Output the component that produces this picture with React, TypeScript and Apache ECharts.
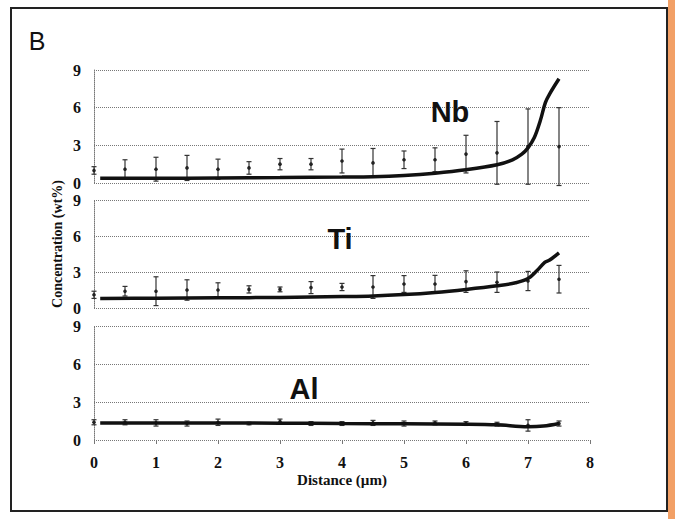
import React, { useEffect, useRef } from "react";
import * as echarts from "echarts";

// ---- Data ----
const distanceTicks = [0, 1, 2, 3, 4, 5, 6, 7, 8];
const concentrationTicks = [0, 3, 6, 9];
const elements = ["Nb", "Ti", "Al"];

// measurement points (distance, µm)
const pointX = [0, 0.5, 1, 1.5, 2, 2.5, 3, 3.5, 4, 4.5, 5, 5.5, 6, 6.5, 7, 7.5];

// Nb
const nbMean = [1.0, 1.1, 1.1, 1.2, 1.1, 1.2, 1.5, 1.5, 1.75, 1.6, 1.85, 1.85, 2.3, 2.4, 2.9, 2.9];
const nbErr = [0.3, 0.75, 0.95, 1.0, 0.8, 0.5, 0.45, 0.45, 0.95, 1.15, 0.7, 0.95, 1.5, 2.5, 3.0, 3.1];
const nbCurveX = [0.1, 1, 2, 3, 4, 4.5, 5, 5.5, 6, 6.5, 6.75, 6.9, 7.0, 7.1, 7.2, 7.28, 7.35, 7.5];
const nbCurveY = [0.38, 0.38, 0.4, 0.43, 0.47, 0.5, 0.6, 0.78, 1.05, 1.45, 1.85, 2.3, 2.8, 3.6, 5.0, 6.4, 7.1, 8.3];

// Ti
const tiMean = [1.1, 1.4, 1.4, 1.5, 1.5, 1.55, 1.55, 1.7, 1.75, 1.75, 2.0, 2.0, 2.2, 2.15, 2.25, 2.4];
const tiErr = [0.3, 0.4, 1.2, 0.85, 0.6, 0.3, 0.2, 0.5, 0.3, 0.95, 0.7, 0.72, 0.9, 0.85, 0.8, 1.15];
const tiCurveX = [0.1, 1, 2, 3, 4, 4.5, 5, 5.5, 6, 6.5, 6.8, 7.0, 7.15, 7.27, 7.35, 7.5];
const tiCurveY = [0.8, 0.82, 0.85, 0.88, 0.95, 1.0, 1.12, 1.3, 1.55, 1.85, 2.1, 2.45, 3.15, 3.8, 4.0, 4.6];

// Al
const alMean = [1.4, 1.4, 1.35, 1.3, 1.4, 1.3, 1.45, 1.3, 1.3, 1.35, 1.3, 1.35, 1.3, 1.25, 1.15, 1.3];
const alErr = [0.2, 0.2, 0.25, 0.2, 0.25, 0.1, 0.2, 0.15, 0.15, 0.2, 0.2, 0.15, 0.15, 0.15, 0.45, 0.2];
const alCurveX = [0.1, 1, 2, 3, 4, 5, 6, 6.5, 7.0, 7.25, 7.5];
const alCurveY = [1.35, 1.35, 1.35, 1.33, 1.3, 1.28, 1.25, 1.2, 1.05, 1.1, 1.3];

const panels = [
  { name: elements[0], mean: nbMean, err: nbErr, cx: nbCurveX, cy: nbCurveY },
  { name: elements[1], mean: tiMean, err: tiErr, cx: tiCurveX, cy: tiCurveY },
  { name: elements[2], mean: alMean, err: alErr, cx: alCurveX, cy: alCurveY },
];

const gridBoxes = [
  { top: 70, height: 113 },
  { top: 200, height: 108 },
  { top: 326, height: 114 },
];
const labelPos = [
  { x: 450, y: 112 },
  { x: 340, y: 239 },
  { x: 304, y: 389 },
];

const serif = "'Liberation Serif', 'Times New Roman', serif";
const sans = "'Liberation Sans', Arial, sans-serif";

export default function App() {
  const ref = useRef<HTMLDivElement>(null);

  useEffect(() => {
    if (!ref.current) return;
    const chart = echarts.init(ref.current, null, { renderer: "svg" });

    const grids = gridBoxes.map((g) => ({ left: 94, right: 85, top: g.top, height: g.height }));

    const xAxes = panels.map((_, i) => ({
      type: "value",
      gridIndex: i,
      min: distanceTicks[0],
      max: distanceTicks[distanceTicks.length - 1],
      interval: 1,
      axisLine: { show: false },
      splitLine: { show: false },
      axisTick: {
        show: i === 2,
        length: 4,
        lineStyle: { color: "#777", width: 1 },
      },
      axisLabel: {
        show: i === 2,
        margin: 14,
        fontFamily: serif,
        fontWeight: "bold",
        fontSize: 16,
        color: "#111",
      },
      name: i === 2 ? "Distance (µm)" : "",
      nameLocation: "middle",
      nameGap: 32,
      nameTextStyle: {
        fontFamily: serif,
        fontWeight: "bold",
        fontSize: 15,
        color: "#111",
      },
    }));

    const yAxes = panels.map((_, i) => ({
      type: "value",
      gridIndex: i,
      min: concentrationTicks[0],
      max: concentrationTicks[concentrationTicks.length - 1],
      interval: 3,
      axisLine: { show: true, lineStyle: { color: "#777", type: [1, 1], width: 1 } },
      axisTick: { show: false },
      splitLine: { show: true, lineStyle: { color: "#777", type: [1, 1], width: 1 } },
      axisLabel: {
        margin: 13,
        fontFamily: serif,
        fontWeight: "bold",
        fontSize: 16,
        color: "#111",
      },
    }));

    const series: any[] = [];
    panels.forEach((p, i) => {
      series.push({
        type: "custom",
        xAxisIndex: i,
        yAxisIndex: i,
        clip: false,
        z: 3,
        data: pointX.map((x, k) => [x, p.mean[k], p.mean[k] - p.err[k], p.mean[k] + p.err[k]]),
        renderItem: (params: any, api: any) => {
          const x = api.value(0);
          const m = api.coord([x, api.value(1)]);
          const lo = api.coord([x, api.value(2)]);
          const hi = api.coord([x, api.value(3)]);
          const style = { stroke: "#333", lineWidth: 1.2 };
          return {
            type: "group",
            children: [
              { type: "line", shape: { x1: lo[0], y1: lo[1], x2: hi[0], y2: hi[1] }, style },
              { type: "line", shape: { x1: lo[0] - 2.5, y1: lo[1], x2: lo[0] + 2.5, y2: lo[1] }, style },
              { type: "line", shape: { x1: hi[0] - 2.5, y1: hi[1], x2: hi[0] + 2.5, y2: hi[1] }, style },
              { type: "circle", shape: { cx: m[0], cy: m[1], r: 1.8 }, style: { fill: "#222" } },
            ],
          };
        },
      });
      series.push({
        type: "line",
        xAxisIndex: i,
        yAxisIndex: i,
        smooth: 0.35,
        symbol: "none",
        z: 4,
        lineStyle: { color: "#111", width: 3.5 },
        data: p.cx.map((x, k) => [x, p.cy[k]]),
      });
    });

    const graphic: any[] = [
      {
        type: "rect",
        shape: { x: 668, y: 0, width: 7, height: 519 },
        style: { fill: "#F2A066" },
        silent: true,
      },
      {
        type: "rect",
        shape: { x: 11, y: 8, width: 656, height: 503 },
        style: { fill: "none", stroke: "#222", lineWidth: 2 },
        silent: true,
      },
      {
        type: "text",
        x: 37,
        y: 41,
        style: {
          text: "B",
          fontFamily: sans,
          fontSize: 25,
          fill: "#111",
          align: "center",
          verticalAlign: "middle",
        },
      },
      {
        type: "text",
        x: 57,
        y: 244,
        rotation: Math.PI / 2,
        style: {
          text: "Concentration (wt%)",
          fontFamily: serif,
          fontWeight: "bold",
          fontSize: 14,
          fill: "#111",
          align: "center",
          verticalAlign: "middle",
        },
      },
      ...panels.map((p, i) => ({
        type: "text",
        x: labelPos[i].x,
        y: labelPos[i].y,
        z: 10,
        style: {
          text: p.name,
          fontFamily: sans,
          fontWeight: "bold",
          fontSize: 29,
          fill: "#111",
          align: "center",
          verticalAlign: "middle",
        },
      })),
    ];

    chart.setOption({
      animation: false,
      backgroundColor: "#ffffff",
      grid: grids,
      xAxis: xAxes,
      yAxis: yAxes,
      series,
      graphic,
    });

    return () => chart.dispose();
  }, []);

  return (
    <div
      ref={ref}
      style={{ position: "fixed", left: 0, top: 0, width: 675, height: 519 }}
    />
  );
}
